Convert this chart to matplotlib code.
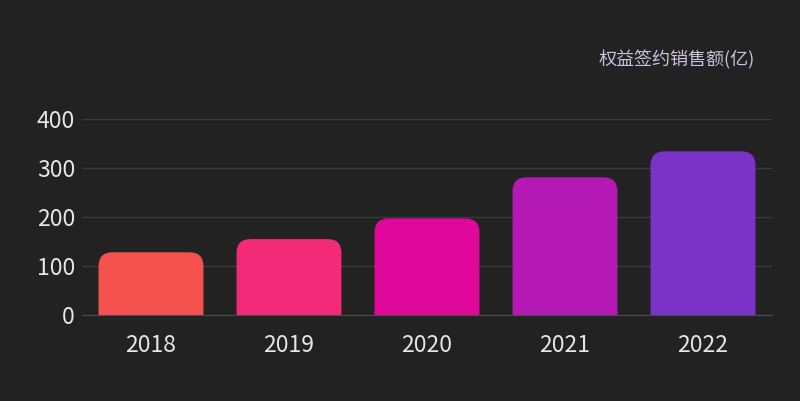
import matplotlib.pyplot as plt
from matplotlib.path import Path
from matplotlib.patches import PathPatch

plt.rcParams['font.family'] = ['Noto Sans CJK SC', 'DejaVu Sans']

years = ['2018', '2019', '2020', '2021', '2022']
sales = [128, 155, 197, 281, 334]
colors = ['#F5524F', '#F22A78', '#E0089A', '#B419B5', '#7B32C6']

fig = plt.figure(figsize=(8, 4.01), dpi=100, facecolor='#222222')
ax = fig.add_axes([82/800, 1-315/401, 690/800, 196/401], facecolor='#222222')
ax.set_xlim(-0.5, 4.5)
ax.set_ylim(0, 400)

bars = ax.bar(range(len(years)), sales, width=0.76, color='none')
# rounded top corners, radius ~14 px
rx = 14 / 138
ry = 14 / 0.49
for b, c in zip(bars, colors):
    x0, w, h = b.get_x(), b.get_width(), b.get_height()
    x1 = x0 + w
    verts = [(x0, 0), (x0, h - ry), (x0, h), (x0 + rx, h),
             (x1 - rx, h), (x1, h), (x1, h - ry), (x1, 0), (x0, 0)]
    codes = [Path.MOVETO, Path.LINETO, Path.CURVE3, Path.CURVE3,
             Path.LINETO, Path.CURVE3, Path.CURVE3, Path.LINETO, Path.CLOSEPOLY]
    ax.add_patch(PathPatch(Path(verts, codes), facecolor=c, edgecolor='none', zorder=3))

ax.set_yticks([0, 100, 200, 300, 400])
ax.yaxis.grid(True, color='#3a3a3a', linewidth=1)
ax.set_axisbelow(True)
ax.set_xticks(range(len(years)))
ax.set_xticklabels(years)
ax.tick_params(axis='both', length=0, labelsize=16.5, labelcolor='#e6e6e6')
ax.tick_params(axis='x', pad=14)
ax.tick_params(axis='y', pad=5)
for s in ['top', 'right', 'left']:
    ax.spines[s].set_visible(False)
ax.spines['bottom'].set_color('#4a4a4a')

fig.text(755/800, 1-60/401, '权益签约销售额(亿)', ha='right', va='center',
         fontsize=13, color='#c9c2dc')

fig.savefig('out.png', facecolor=fig.get_facecolor())
